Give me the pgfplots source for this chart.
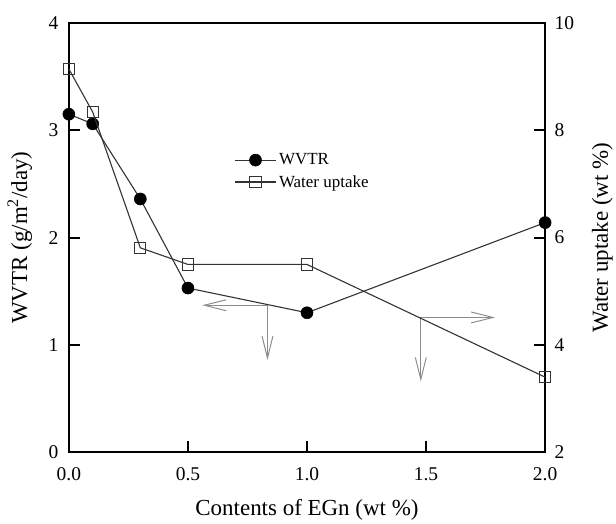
\documentclass[border=0pt]{standalone}
\usepackage{pgfplots}
\pgfplotsset{compat=1.18}
\usepackage{fontspec}
\setmainfont{Liberation Serif}
\usetikzlibrary{arrows.meta}
\definecolor{dline}{HTML}{333333}
\definecolor{arr}{HTML}{8C8C8C}
\begin{document}
\begin{tikzpicture}[font=\fontsize{17}{20}\selectfont]
\pgfplotsset{
  common/.style={
    scale only axis, width=477pt, height=430pt,
    xmin=0, xmax=2, clip=false,
    tick align=inside, major tick length=11pt,
    axis line style={line width=1.8pt},
    every tick/.style={line width=1.8pt, black},
    /pgf/number format/assume math mode=true,
    tick label style={font=\fontsize{19.5}{22}\selectfont},
    label style={font=\fontsize{23}{26}\selectfont},
  },
  wv/.style={color=dline, line width=1.1pt, mark=*, mark size=6pt, mark options={fill=black, draw=black, line width=0.6pt}},
  wu/.style={color=dline, line width=1.1pt, mark=square, mark size=5.6pt, mark options={fill=white, draw=dline, line width=1pt}},
}
\begin{axis}[common, name=ax,
  ymin=0, ymax=4,
  xtick={0,0.5,1,1.5,2}, ytick={0,1,2,3,4},
  xtick pos=bottom, ytick pos=left,
  xticklabel style={yshift=-12pt, /pgf/number format/.cd, fixed, fixed zerofill, precision=1},
  yticklabel style={xshift=-7pt},
  xlabel={Contents of EGn (wt \%)},
  ylabel={WVTR (g/m\textsuperscript{2}/day)},
  xlabel style={at={(axis description cs:0.5,-0.133)}, anchor=center},
  ylabel style={at={(axis description cs:-0.103,0.5)}, anchor=center},
]
\addplot[wv] coordinates {(0,3.15) (0.1,3.06) (0.3,2.36) (0.5,1.53) (1.0,1.30) (2.0,2.14)};
\draw[arr, line width=1pt, -{Straight Barb[length=22pt,width=11pt]}] (axis cs:0.834,1.37) -- (axis cs:0.56,1.37);
\draw[arr, line width=1pt, -{Straight Barb[length=22pt,width=11pt]}] (axis cs:0.834,1.37) -- (axis cs:0.834,0.86);
\draw[arr, line width=1pt, -{Straight Barb[length=22pt,width=11pt]}] (axis cs:1.478,1.256) -- (axis cs:1.79,1.256);
\draw[arr, line width=1pt, -{Straight Barb[length=22pt,width=11pt]}] (axis cs:1.478,1.256) -- (axis cs:1.478,0.66);
\end{axis}
\begin{axis}[common,
  ymin=2, ymax=10, ytick={2,4,6,8,10},
  axis y line*=right, axis x line=none,
  yticklabel style={xshift=6pt},
  ylabel={Water uptake (wt \%)},
  ylabel style={at={(axis description cs:1.12,0.5)}, anchor=center},
  legend style={draw=none, fill=none, at={(axis description cs:0.34,0.705)}, anchor=north west,
    font=\fontsize{17}{20}\selectfont, row sep=5pt},
  legend cell align=left,
  legend image code/.code={\draw[mark repeat=2,mark phase=2] plot coordinates {(0pt,0pt) (21pt,0pt) (42pt,0pt)};},
]
\addlegendimage{wv}
\addlegendentry{WVTR}
\addplot[wu] coordinates {(0,9.14) (0.1,8.34) (0.3,5.81) (0.5,5.50) (1.0,5.50) (2.0,3.40)};
\addlegendentry{Water uptake}
\end{axis}
\path ([xshift=-69pt,yshift=-70pt]ax.south west) rectangle ([xshift=70pt,yshift=23pt]ax.north east);
\end{tikzpicture}
\end{document}
